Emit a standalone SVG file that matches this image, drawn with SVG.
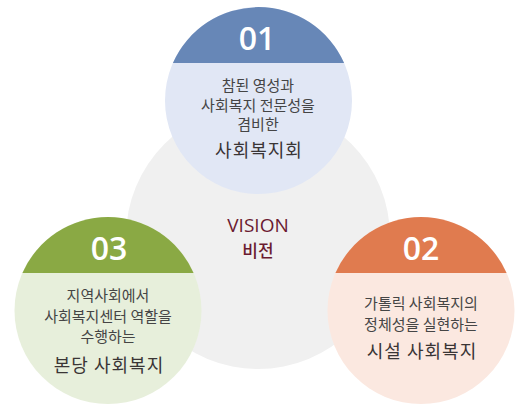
<svg xmlns="http://www.w3.org/2000/svg" width="530" height="410" viewBox="0 0 530 410">
<style>
.num{font-family:"Open Sans","Noto Sans",sans-serif;font-size:32px;font-weight:600;fill:#ffffff;text-anchor:middle}
.body{font-family:"Noto Sans CJK KR","Noto Sans",sans-serif;font-size:15px;fill:#454545;text-anchor:middle}
.big{font-family:"Noto Sans CJK KR","Noto Sans",sans-serif;font-size:18px;fill:#3a3535;text-anchor:middle;letter-spacing:1px}
.vision{font-family:"Open Sans","Noto Sans CJK KR",sans-serif;font-size:19px;fill:#6b1a30;text-anchor:middle}
.vko{font-family:"Noto Sans CJK KR",sans-serif;font-size:17px;fill:#6b1a30;text-anchor:middle;font-weight:500}
</style>
<rect width="530" height="410" fill="#ffffff"/>
<g id="vision">
<circle cx="258" cy="237" r="132" fill="#f0f0f0"/>
<text class="vision" x="258" y="232">VISION</text>
<text class="vko" x="258" y="257">비전</text>
</g>
<g id="node01">
<circle cx="258.5" cy="100.5" r="93.5" fill="#e1e7f5"/>
<path d="M172.9 63 A93.5 93.5 0 0 1 344.1 63 Z" fill="#6787b7"/>
<text class="num" x="257" y="50">01</text>
<text class="body" x="258" y="91">참된 영성과</text>
<text class="body" x="258" y="111">사회복지 전문성을</text>
<text class="body" x="258" y="130">겸비한</text>
<text class="big" x="259" y="157">사회복지회</text>
</g>
<g id="node03">
<circle cx="108" cy="310.5" r="93.5" fill="#e7efdb"/>
<path d="M22.4 273 A93.5 93.5 0 0 1 193.6 273 Z" fill="#8aa944"/>
<text class="num" x="109" y="260">03</text>
<text class="body" x="108" y="301">지역사회에서</text>
<text class="body" x="108" y="322">사회복지센터 역할을</text>
<text class="body" x="108" y="342">수행하는</text>
<text class="big" x="109" y="372">본당 사회복지</text>
</g>
<g id="node02">
<circle cx="421" cy="310.5" r="93.5" fill="#fbe8e0"/>
<path d="M335.4 273 A93.5 93.5 0 0 1 506.6 273 Z" fill="#e07b4f"/>
<text class="num" x="421" y="260">02</text>
<text class="body" x="421" y="309">가톨릭 사회복지의</text>
<text class="body" x="421" y="330">정체성을 실현하는</text>
<text class="big" x="422" y="358">시설 사회복지</text>
</g>
<g id="connectors"></g>
</svg>
